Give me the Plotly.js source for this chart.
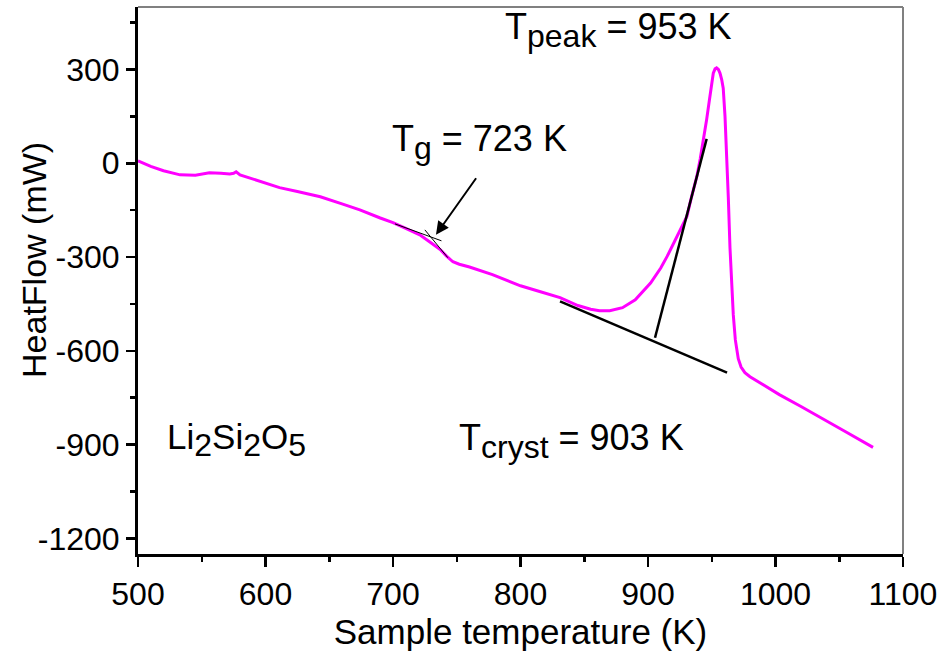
<!DOCTYPE html>
<html>
<head>
<meta charset="utf-8">
<script src="https://cdn.plot.ly/plotly-3.0.1.min.js"></script>
<style>html,body{margin:0;padding:0;background:#fff;}#chart{width:950px;height:653px;}</style>
</head>
<body>
<div id="chart"></div>
<script>
// Sample temperature (K)
var temperature = [500,510,520,533,545,556,565,572,575,577,580,590,600,611,625,643,660,674,690,700,710,721,730,737,742,747,752,760,778,800,815,831,845,855,862,870,880,890,902,910,915,920,925,930.5,934,938.3,941,943.5,946,948.2,950,951.2,952.6,953.8,955.2,956.5,957.8,959,960.4,961.7,963,964.3,965.6,966.9,968.5,970.8,973,976,980,990,1003,1020,1035,1055,1076.5];
// Heat flow (mW)
var heatFlow = [8,-10,-24,-37,-38,-30,-32,-34,-32,-27,-37,-50,-62,-78,-90,-107,-130,-149,-175,-190,-208,-229,-255,-276,-297,-315,-323,-332,-356,-392,-410,-430,-455,-467,-472,-472,-462,-437,-383,-335,-298,-258,-215,-170,-110,-42,15,75,140,203,250,288,302,305,300,288,268,240,150,30,-110,-270,-390,-485,-565,-625,-652,-670,-683,-708,-740,-778,-812,-859,-909];

// Construction (tangent) lines
var baselineX = [831, 962];
var baselineY = [-442, -670];
var onsetX = [905.5, 946];
var onsetY = [-558, 78];
var tgLine1X = [701.6, 738];
var tgLine1Y = [-194, -248];
var tgLine2X = [725, 743];
var tgLine2Y = [-213, -302];

// Tick values
var xTicks = [500, 600, 700, 800, 900, 1000, 1100];
var yTicks = [-1200, -900, -600, -300, 0, 300];

var traces = [
  {x: temperature, y: heatFlow, type: 'scatter', mode: 'lines',
   line: {color: '#ff00ff', width: 3, shape: 'linear'}, name: 'HeatFlow'},
  {x: baselineX, y: baselineY, type: 'scatter', mode: 'lines', line: {color: '#000', width: 2.5}},
  {x: onsetX, y: onsetY, type: 'scatter', mode: 'lines', line: {color: '#000', width: 2.5}},
  {x: tgLine1X, y: tgLine1Y, type: 'scatter', mode: 'lines', line: {color: '#000', width: 1}},
  {x: tgLine2X, y: tgLine2Y, type: 'scatter', mode: 'lines', line: {color: '#000', width: 1}}
];

var fontFam = 'Liberation Sans, Arial, Helvetica, sans-serif';
function sub(s) { return '<sub><span style="font-size:32px">' + s + '</span></sub>'; }

var layout = {
  width: 950, height: 653,
  margin: {l: 138, r: 47, t: 7, b: 99},
  paper_bgcolor: '#fff', plot_bgcolor: '#fff',
  showlegend: false,
  font: {family: fontFam, color: '#000'},
  xaxis: {
    range: [500, 1100], tickvals: xTicks, ticktext: xTicks.map(String),
    showgrid: false, zeroline: false, showline: true, linecolor: '#000', linewidth: 3,
    ticks: 'outside', ticklen: 10, tickwidth: 2.5, tickcolor: '#000',
    minor: {dtick: 50, ticks: 'outside', ticklen: 5, tickwidth: 2.5, tickcolor: '#000'},
    tickfont: {size: 32, family: fontFam, color: '#000'},
    title: {text: 'Sample temperature (K)', font: {size: 35, family: fontFam, color: '#000'}, standoff: 4},
    automargin: false
  },
  yaxis: {
    range: [-1250, 500], tickvals: yTicks, ticktext: yTicks.map(String),
    showgrid: false, zeroline: false, showline: true, linecolor: '#000', linewidth: 3,
    ticks: 'outside', ticklen: 9, tickwidth: 2.5, tickcolor: '#000',
    minor: {dtick: 150, ticks: 'outside', ticklen: 5, tickwidth: 2.5, tickcolor: '#000'},
    tickfont: {size: 32, family: fontFam, color: '#000'},
    automargin: false
  },
  shapes: [
    {type: 'line', xref: 'paper', yref: 'paper', x0: 0, x1: 1, y0: 1, y1: 1, line: {color: '#808080', width: 2}},
    {type: 'line', xref: 'paper', yref: 'paper', x0: 1, x1: 1, y0: 0, y1: 1, line: {color: '#808080', width: 2}}
  ],
  annotations: [
    {x: 0, y: 0.5375, xref: 'paper', yref: 'paper', xanchor: 'center', yanchor: 'middle', xshift: -104,
     text: 'HeatFlow (mW)', textangle: -90, showarrow: false,
     font: {size: 34, family: fontFam, color: '#000'}},
    {x: 876.5, y: 425, xref: 'x', yref: 'y', text: 'T' + sub('peak') + ' = 953 K', showarrow: false,
     font: {size: 36, family: fontFam, color: '#000'}},
    {x: 768, y: 67, xref: 'x', yref: 'y', text: 'T' + sub('g') + ' = 723 K', showarrow: false,
     font: {size: 36, family: fontFam, color: '#000'}},
    {x: 840, y: -890, xref: 'x', yref: 'y', text: 'T' + sub('cryst') + ' = 903 K', showarrow: false,
     font: {size: 36, family: fontFam, color: '#000'}},
    {x: 577.6, y: -884, xref: 'x', yref: 'y', text: 'Li' + sub('2') + 'Si' + sub('2') + 'O' + sub('5'), showarrow: false,
     font: {size: 35, family: fontFam, color: '#000'}},
    {x: 733.7, y: -228.5, xref: 'x', yref: 'y', ax: 766, ay: -43, axref: 'x', ayref: 'y',
     text: '', showarrow: true, arrowhead: 2, arrowsize: 1.3, arrowwidth: 2, arrowcolor: '#000'}
  ]
};

Plotly.newPlot('chart', traces, layout, {displayModeBar: false, staticPlot: true});
</script>
</body>
</html>
